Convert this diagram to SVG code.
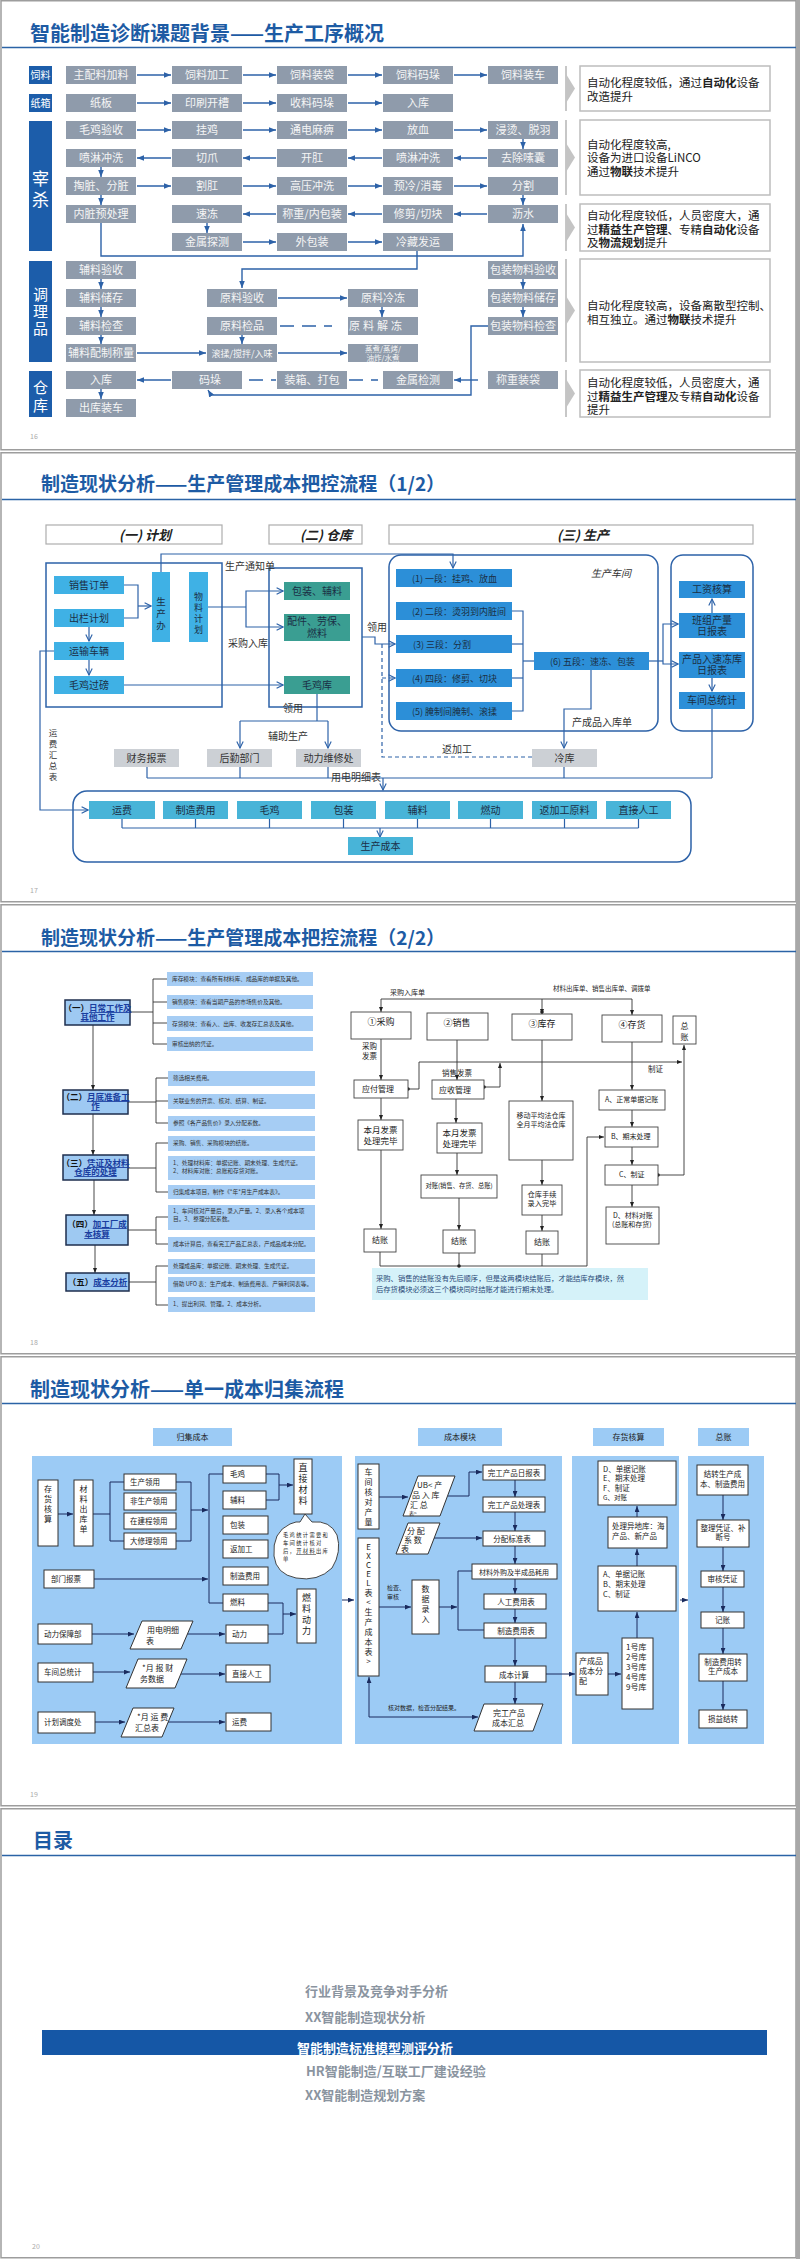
<svg xmlns="http://www.w3.org/2000/svg" width="800" height="2259" viewBox="0 0 800 2259">
<style>
text{font-family:"Noto Sans CJK SC","Liberation Sans",sans-serif}
.frame{fill:#fff;stroke:#9d9d9d;stroke-width:1.5}
.ttl{font-size:20px;font-weight:700;fill:#1d5ba4}
.ttl2{font-size:19px;font-weight:700;fill:#1d5ba4}
.rule{stroke:#2b63a6;stroke-width:1.6}
.pg{font-size:7px;fill:#aaa}
.cat{fill:#1c5daa}
.catt{fill:#fff;text-anchor:middle}
.gb{fill:#8f9bab}
.gt{font-size:11px;fill:#f5f5f5;text-anchor:middle}
.c1{stroke:#2d62a8;stroke-width:1.4;fill:none}
.ca1{stroke:#2d62a8;stroke-width:1.4;fill:none;marker-end:url(#a1)}
.dash1{stroke:#2d62a8;stroke-width:1.6;fill:none;stroke-dasharray:14 8}
.sep{stroke:#b5b5b5;stroke-width:1.5}
.chev{fill:#c4c4c4}
.nb{fill:#fff;stroke:#bdbdbd;stroke-width:1.5}
.nt{font-size:11.5px;fill:#222}
.b{font-weight:700}
.hdr{fill:#fff;stroke:#adadad;stroke-width:1.2}
.hdrt{font-size:13px;font-weight:700;font-style:italic;fill:#222;text-anchor:middle}
.ob{fill:none;stroke:#2d62a8;stroke-width:1.5}
.cy{fill:#3fb1e5}
.tl{fill:#3a9e92}
.st{fill:#2c8fd8}
.ci{fill:#48b4d8}
.gy{fill:#ccd0d5}
.bt{font-size:10px;fill:#1b2f45;text-anchor:middle}
.st9{font-size:9px;fill:#1b2f45}
.lb{font-size:10px;fill:#333}
.c2{stroke:#2d62a8;stroke-width:1.2;fill:none}
.ca2{stroke:#2d62a8;stroke-width:1.2;fill:none;marker-end:url(#a2)}
.d2{stroke:#2d62a8;stroke-width:1.2;fill:none;stroke-dasharray:4 3}
.da2{stroke:#2d62a8;stroke-width:1.2;fill:none;stroke-dasharray:4 3;marker-end:url(#a2)}
.lbx{fill:#9ec9f2;stroke:#1e2e4e;stroke-width:1.5}
.lbt{font-size:8.5px;font-weight:700;fill:#1a3ea0;text-anchor:middle}
.ib{fill:#a6cdf4}
.it{font-size:5.7px;fill:#333}
.k{stroke:#333;stroke-width:0.9;fill:none}
.ka{stroke:#333;stroke-width:0.9;fill:none;marker-end:url(#a3)}
.wb{fill:#fff;stroke:#444;stroke-width:0.9}
.wt{font-size:8px;fill:#222}
.pnl{fill:#9ccbf5}
.wb4{fill:#fff;stroke:#333;stroke-width:1}
.t4{font-size:7.5px;fill:#222}
.t4c{font-size:7.5px;fill:#222;text-anchor:middle}
.n4{stroke:#1a2b5e;stroke-width:1;fill:none}
.na4{stroke:#1a2b5e;stroke-width:1;fill:none;marker-end:url(#a4)}
.toc{font-size:13px;font-weight:700;fill:#8a949f}
.tocw{font-size:13px;font-weight:700;fill:#ffffff}
</style>
<defs>
<marker id="a1" viewBox="0 0 10 8" refX="10" refY="4" markerWidth="7" markerHeight="5.6" markerUnits="userSpaceOnUse" orient="auto"><path d="M0,0 L10,4 L0,8 z" fill="#2d62a8"/></marker>
<marker id="a2" viewBox="0 0 10 10" refX="9" refY="5" markerWidth="8" markerHeight="8" markerUnits="userSpaceOnUse" orient="auto"><path d="M1,1 L9,5 L1,9" fill="none" stroke="#2d62a8" stroke-width="1.4"/></marker>
<marker id="a3" viewBox="0 0 10 8" refX="10" refY="4" markerWidth="5" markerHeight="4" markerUnits="userSpaceOnUse" orient="auto"><path d="M0,0 L10,4 L0,8 z" fill="#222"/></marker>
<marker id="a4" viewBox="0 0 10 8" refX="10" refY="4" markerWidth="6" markerHeight="5" markerUnits="userSpaceOnUse" orient="auto"><path d="M0,0 L10,4 L0,8 z" fill="#1a2b5e"/></marker>
</defs>

<rect x="0" y="0" width="800" height="2259" fill="#fff"/>
<g id="frames">
<rect class="frame" x="1" y="0.75" width="795" height="449"/>
<rect class="frame" x="1" y="452.75" width="795" height="449"/>
<rect class="frame" x="1" y="904.75" width="795" height="449"/>
<rect class="frame" x="1" y="1356.75" width="795" height="449"/>
<rect class="frame" x="1" y="1808.75" width="795" height="449"/>
<rect x="796" y="0" width="4" height="2259" fill="#a8a8a8"/>
</g>

<!-- ================= SLIDE 1 ================= -->
<g id="s1-header">
<text class="ttl" x="30" y="41">智能制造诊断课题背景——生产工序概况</text>
<line class="rule" x1="2" y1="47.5" x2="796" y2="47.5"/>
<text class="pg" x="30" y="439">16</text>
</g>
<g id="s1-categories">
<g id="s1-cat-siliao"><rect class="cat" x="29" y="66" width="23" height="18"/><text class="catt" x="40.5" y="79" font-size="10">饲料</text></g>
<g id="s1-cat-zhixiang"><rect class="cat" x="29" y="94" width="23" height="18"/><text class="catt" x="40.5" y="107" font-size="10">纸箱</text></g>
<g id="s1-cat-zaisha"><rect class="cat" x="29" y="121" width="23" height="130"/><text class="catt" font-size="17"><tspan x="40.5" y="185">宰</tspan><tspan x="40.5" y="206">杀</tspan></text></g>
<g id="s1-cat-tiaolipin"><rect class="cat" x="29" y="261" width="23" height="101"/><text class="catt" font-size="15"><tspan x="40.5" y="300">调</tspan><tspan x="40.5" y="317">理</tspan><tspan x="40.5" y="334">品</tspan></text></g>
<g id="s1-cat-cangku"><rect class="cat" x="29" y="371" width="23" height="46"/><text class="catt" font-size="15"><tspan x="40.5" y="393">仓</tspan><tspan x="40.5" y="411">库</tspan></text></g>
</g>

<g id="s1-connectors">
<line class="ca1" x1="137" y1="75" x2="171" y2="75"/><line class="ca1" x1="243" y1="75" x2="276" y2="75"/><line class="ca1" x1="348" y1="75" x2="382" y2="75"/><line class="ca1" x1="454" y1="75" x2="487" y2="75"/>
<line class="ca1" x1="137" y1="103" x2="171" y2="103"/><line class="ca1" x1="243" y1="103" x2="276" y2="103"/><line class="ca1" x1="348" y1="103" x2="382" y2="103"/>
<line class="ca1" x1="137" y1="130" x2="171" y2="130"/><line class="ca1" x1="243" y1="130" x2="276" y2="130"/><line class="ca1" x1="348" y1="130" x2="382" y2="130"/><line class="ca1" x1="454" y1="130" x2="487" y2="130"/>
<line class="ca1" x1="487" y1="158" x2="454" y2="158"/><line class="ca1" x1="382" y1="158" x2="348" y2="158"/><line class="ca1" x1="276" y1="158" x2="243" y2="158"/><line class="ca1" x1="171" y1="158" x2="137" y2="158"/>
<line class="ca1" x1="137" y1="186" x2="171" y2="186"/><line class="ca1" x1="243" y1="186" x2="276" y2="186"/><line class="ca1" x1="348" y1="186" x2="382" y2="186"/><line class="ca1" x1="454" y1="186" x2="487" y2="186"/>
<line class="ca1" x1="487" y1="214" x2="454" y2="214"/><line class="ca1" x1="382" y1="214" x2="348" y2="214"/><line class="ca1" x1="276" y1="214" x2="243" y2="214"/>
<line class="ca1" x1="243" y1="242" x2="276" y2="242"/><line class="ca1" x1="348" y1="242" x2="382" y2="242"/>
<line class="ca1" x1="523" y1="139" x2="523" y2="149"/>
<line class="ca1" x1="101" y1="167" x2="101" y2="177"/>
<line class="ca1" x1="523" y1="195" x2="523" y2="205"/>
<line class="ca1" x1="101" y1="195" x2="101" y2="205"/>
<line class="ca1" x1="207" y1="223" x2="207" y2="233"/>
<polyline class="ca1" points="101,223 101,256 523,256 523,224"/>
<polyline class="ca1" points="417,251 417,269 242,269 242,288"/>
<line class="ca1" x1="101" y1="278" x2="101" y2="289"/><line class="ca1" x1="101" y1="306" x2="101" y2="317"/><line class="ca1" x1="101" y1="334" x2="101" y2="344"/>
<line class="ca1" x1="523" y1="278" x2="523" y2="289"/><line class="ca1" x1="523" y1="306" x2="523" y2="317"/>
<line class="ca1" x1="382" y1="306" x2="382" y2="317"/>
<line class="ca1" x1="242" y1="334" x2="242" y2="344"/>
<line class="ca1" x1="278" y1="298" x2="347" y2="298"/>
<line class="dash1" x1="280" y1="326" x2="332" y2="326"/>
<line class="ca1" x1="137" y1="353" x2="206" y2="353"/>
<line class="ca1" x1="278" y1="353" x2="347" y2="353"/>
<line class="ca1" x1="171" y1="380" x2="137" y2="380"/>
<line class="dash1" x1="249" y1="380" x2="276" y2="380"/>
<line class="dash1" x1="349" y1="380" x2="378" y2="380"/>
<line class="ca1" x1="478" y1="380" x2="454" y2="380"/>
<polyline class="ca1" points="488,326 471,326 471,395 211,395 208,390"/>
<line class="ca1" x1="101" y1="389" x2="101" y2="399"/>
</g>

<g id="s1-nodes">
<g id="s1-r1c1"><rect class="gb" x="66" y="66" width="70" height="18"/><text class="gt" x="101" y="79">主配料加料</text></g>
<g id="s1-r1c2"><rect class="gb" x="172" y="66" width="70" height="18"/><text class="gt" x="207" y="79">饲料加工</text></g>
<g id="s1-r1c3"><rect class="gb" x="277" y="66" width="70" height="18"/><text class="gt" x="312" y="79">饲料装袋</text></g>
<g id="s1-r1c4"><rect class="gb" x="383" y="66" width="70" height="18"/><text class="gt" x="418" y="79">饲料码垛</text></g>
<g id="s1-r1c5"><rect class="gb" x="488" y="66" width="70" height="18"/><text class="gt" x="523" y="79">饲料装车</text></g>
<g id="s1-r2c1"><rect class="gb" x="66" y="94" width="70" height="18"/><text class="gt" x="101" y="107">纸板</text></g>
<g id="s1-r2c2"><rect class="gb" x="172" y="94" width="70" height="18"/><text class="gt" x="207" y="107">印刷开槽</text></g>
<g id="s1-r2c3"><rect class="gb" x="277" y="94" width="70" height="18"/><text class="gt" x="312" y="107">收料码垛</text></g>
<g id="s1-r2c4"><rect class="gb" x="383" y="94" width="70" height="18"/><text class="gt" x="418" y="107">入库</text></g>
<g id="s1-r3c1"><rect class="gb" x="66" y="121" width="70" height="18"/><text class="gt" x="101" y="134">毛鸡验收</text></g>
<g id="s1-r3c2"><rect class="gb" x="172" y="121" width="70" height="18"/><text class="gt" x="207" y="134">挂鸡</text></g>
<g id="s1-r3c3"><rect class="gb" x="277" y="121" width="70" height="18"/><text class="gt" x="312" y="134">通电麻痹</text></g>
<g id="s1-r3c4"><rect class="gb" x="383" y="121" width="70" height="18"/><text class="gt" x="418" y="134">放血</text></g>
<g id="s1-r3c5"><rect class="gb" x="488" y="121" width="70" height="18"/><text class="gt" x="523" y="134">浸烫、脱羽</text></g>
<g id="s1-r4c1"><rect class="gb" x="66" y="149" width="70" height="18"/><text class="gt" x="101" y="162">喷淋冲洗</text></g>
<g id="s1-r4c2"><rect class="gb" x="172" y="149" width="70" height="18"/><text class="gt" x="207" y="162">切爪</text></g>
<g id="s1-r4c3"><rect class="gb" x="277" y="149" width="70" height="18"/><text class="gt" x="312" y="162">开肛</text></g>
<g id="s1-r4c4"><rect class="gb" x="383" y="149" width="70" height="18"/><text class="gt" x="418" y="162">喷淋冲洗</text></g>
<g id="s1-r4c5"><rect class="gb" x="488" y="149" width="70" height="18"/><text class="gt" x="523" y="162">去除嗉囊</text></g>
<g id="s1-r5c1"><rect class="gb" x="66" y="177" width="70" height="18"/><text class="gt" x="101" y="190">掏脏、分脏</text></g>
<g id="s1-r5c2"><rect class="gb" x="172" y="177" width="70" height="18"/><text class="gt" x="207" y="190">割肛</text></g>
<g id="s1-r5c3"><rect class="gb" x="277" y="177" width="70" height="18"/><text class="gt" x="312" y="190">高压冲洗</text></g>
<g id="s1-r5c4"><rect class="gb" x="383" y="177" width="70" height="18"/><text class="gt" x="418" y="190">预冷/消毒</text></g>
<g id="s1-r5c5"><rect class="gb" x="488" y="177" width="70" height="18"/><text class="gt" x="523" y="190">分割</text></g>
<g id="s1-r6c1"><rect class="gb" x="66" y="205" width="70" height="18"/><text class="gt" x="101" y="218">内脏预处理</text></g>
<g id="s1-r6c2"><rect class="gb" x="172" y="205" width="70" height="18"/><text class="gt" x="207" y="218">速冻</text></g>
<g id="s1-r6c3"><rect class="gb" x="277" y="205" width="70" height="18"/><text class="gt" x="312" y="218">称重/内包装</text></g>
<g id="s1-r6c4"><rect class="gb" x="383" y="205" width="70" height="18"/><text class="gt" x="418" y="218">修剪/切块</text></g>
<g id="s1-r6c5"><rect class="gb" x="488" y="205" width="70" height="18"/><text class="gt" x="523" y="218">沥水</text></g>
<g id="s1-r7c2"><rect class="gb" x="172" y="233" width="70" height="18"/><text class="gt" x="207" y="246">金属探测</text></g>
<g id="s1-r7c3"><rect class="gb" x="277" y="233" width="70" height="18"/><text class="gt" x="312" y="246">外包装</text></g>
<g id="s1-r7c4"><rect class="gb" x="383" y="233" width="70" height="18"/><text class="gt" x="418" y="246">冷藏发运</text></g>
<g id="s1-r8c1"><rect class="gb" x="66" y="261" width="70" height="18"/><text class="gt" x="101" y="274">辅料验收</text></g>
<g id="s1-r8c5"><rect class="gb" x="488" y="261" width="70" height="18"/><text class="gt" x="523" y="274">包装物料验收</text></g>
<g id="s1-r9c1"><rect class="gb" x="66" y="289" width="70" height="18"/><text class="gt" x="101" y="302">辅料储存</text></g>
<g id="s1-r9m1"><rect class="gb" x="207" y="289" width="70" height="18"/><text class="gt" x="242" y="302">原料验收</text></g>
<g id="s1-r9m2"><rect class="gb" x="348" y="289" width="70" height="18"/><text class="gt" x="383" y="302">原料冷冻</text></g>
<g id="s1-r9c5"><rect class="gb" x="488" y="289" width="70" height="18"/><text class="gt" x="523" y="302">包装物料储存</text></g>
<g id="s1-r10c1"><rect class="gb" x="66" y="317" width="70" height="18"/><text class="gt" x="101" y="330">辅料检查</text></g>
<g id="s1-r10m1"><rect class="gb" x="207" y="317" width="70" height="18"/><text class="gt" x="242" y="330">原料检品</text></g>
<g id="s1-r10m2"><rect class="gb" x="348" y="317" width="70" height="18"/><text class="gt" x="349" y="330" style="text-anchor:start;letter-spacing:3px">原料解冻</text></g>
<g id="s1-r10c5"><rect class="gb" x="488" y="317" width="70" height="18"/><text class="gt" x="523" y="330">包装物料检查</text></g>
<g id="s1-r11c1"><rect class="gb" x="66" y="344" width="70" height="18"/><text class="gt" x="101" y="357">辅料配制称量</text></g>
<g id="s1-r11m1"><rect class="gb" x="207" y="344" width="70" height="18"/><text class="gt" x="242" y="356.5" style="font-size:9px">滚揉/搅拌/入味</text></g>
<g id="s1-r11m2"><rect class="gb" x="348" y="344" width="70" height="18"/><text class="gt" style="font-size:7.5px"><tspan x="383" y="352">蒸煮/蒸烤/</tspan><tspan x="383" y="360.5">油炸/水煮</tspan></text></g>
<g id="s1-r12c1"><rect class="gb" x="66" y="371" width="70" height="18"/><text class="gt" x="101" y="384">入库</text></g>
<g id="s1-r12c2"><rect class="gb" x="172" y="371" width="70" height="18"/><text class="gt" x="210" y="384">码垛</text></g>
<g id="s1-r12c3"><rect class="gb" x="277" y="371" width="70" height="18"/><text class="gt" x="312" y="384">装箱、打包</text></g>
<g id="s1-r12c4"><rect class="gb" x="383" y="371" width="70" height="18"/><text class="gt" x="418" y="384">金属检测</text></g>
<g id="s1-r12c5"><rect class="gb" x="488" y="371" width="70" height="18"/><text class="gt" x="518" y="384">称重装袋</text></g>
<g id="s1-r13c1"><rect class="gb" x="66" y="399" width="70" height="18"/><text class="gt" x="101" y="412">出库装车</text></g>
</g>

<g id="s1-notes">
<g id="s1-sep">
<line class="sep" x1="566" y1="66" x2="566" y2="111"/><polygon class="chev" points="566,74 575,88.5 566,103"/>
<line class="sep" x1="566" y1="120" x2="566" y2="195"/><polygon class="chev" points="566,143 575,157.5 566,172"/>
<line class="sep" x1="566" y1="204" x2="566" y2="251"/><polygon class="chev" points="566,213 575,227.5 566,242"/>
<line class="sep" x1="566" y1="259" x2="566" y2="362"/><polygon class="chev" points="566,296 575,310.5 566,325"/>
<line class="sep" x1="566" y1="370" x2="566" y2="417"/><polygon class="chev" points="566,379 575,393.5 566,408"/>
</g>
<g id="s1-note1"><rect class="nb" x="580" y="66" width="190" height="45"/><text class="nt" x="587" y="87">自动化程度较低，通过<tspan class="b">自动化</tspan>设备</text><text class="nt" x="587" y="101">改造提升</text></g>
<g id="s1-note2"><rect class="nb" x="580" y="120" width="190" height="75"/><text class="nt" x="587" y="149">自动化程度较高,</text><text class="nt" x="587" y="162">设备为进口设备LiNCO</text><text class="nt" x="587" y="176">通过<tspan class="b">物联</tspan>技术提升</text></g>
<g id="s1-note3"><rect class="nb" x="580" y="204" width="190" height="47"/><text class="nt" x="587" y="220">自动化程度较低，人员密度大，通</text><text class="nt" x="587" y="234">过<tspan class="b">精益生产管理</tspan>、专精<tspan class="b">自动化</tspan>设备</text><text class="nt" x="587" y="247">及<tspan class="b">物流规划</tspan>提升</text></g>
<g id="s1-note4"><rect class="nb" x="580" y="259" width="190" height="103"/><text class="nt" x="587" y="310">自动化程度较高，设备离散型控制、</text><text class="nt" x="587" y="324">相互独立。通过<tspan class="b">物联</tspan>技术提升</text></g>
<g id="s1-note5"><rect class="nb" x="580" y="370" width="190" height="47"/><text class="nt" x="587" y="387">自动化程度较低，人员密度大，通</text><text class="nt" x="587" y="401">过<tspan class="b">精益生产管理</tspan>及专精<tspan class="b">自动化</tspan>设备</text><text class="nt" x="587" y="414">提升</text></g>
</g>

<!-- ================= SLIDE 2 ================= -->
<g id="s2-header">
<text class="ttl2" x="41" y="491">制造现状分析——生产管理成本把控流程（1/2）</text>
<line class="rule" x1="2" y1="499.5" x2="796" y2="499.5"/>
<text class="pg" x="30" y="893">17</text>
</g>
<g id="s2-sections">
<g id="s2-sec1"><rect class="hdr" x="46" y="525" width="176" height="19"/><text class="hdrt" x="145" y="540">(一) 计划</text></g>
<g id="s2-sec2"><rect class="hdr" x="269" y="525" width="93" height="19"/><text class="hdrt" x="326" y="540">(二) 仓库</text></g>
<g id="s2-sec3"><rect class="hdr" x="389" y="525" width="364" height="19"/><text class="hdrt" x="583" y="540">(三) 生产</text></g>
</g>
<g id="s2-containers">
<rect class="ob" x="46" y="563" width="176" height="144"/>
<rect class="ob" x="269" y="568" width="93" height="139"/>
<rect class="ob" x="389" y="555" width="269" height="176" rx="12"/>
<rect class="ob" x="671" y="555" width="82" height="176" rx="12"/>
<rect class="ob" x="73" y="791" width="618" height="71" rx="14"/>
</g>
<g id="s2-connectors">
<polyline class="c2" points="124,585 138,585 138,618 124,618"/>
<line class="ca2" x1="138" y1="606" x2="151" y2="606"/>
<line class="ca2" x1="89" y1="627" x2="89" y2="641"/>
<line class="ca2" x1="89" y1="660" x2="89" y2="675"/>
<polyline class="ca2" points="54,651 40,651 40,810 88,810"/>
<polyline class="ca2" points="161,572 161,554 453,554 453,568"/>
<line class="c2" x1="208" y1="607" x2="246" y2="607"/>
<polyline class="ca2" points="246,607 246,591 283,591"/>
<polyline class="ca2" points="246,607 246,627 283,627"/>
<line class="ca2" x1="124" y1="685" x2="283" y2="685"/>
<line class="c2" x1="317" y1="694" x2="317" y2="721"/>
<line class="c2" x1="240" y1="721" x2="328" y2="721"/>
<line class="ca2" x1="240" y1="721" x2="240" y2="748"/>
<line class="ca2" x1="328" y1="721" x2="328" y2="748"/>
<polyline class="ca2" points="362,637 375,637 375,644 395,644"/>
<polyline class="d2" points="382,644 382,757 532,757"/>
<line class="da2" x1="382" y1="678" x2="395" y2="678"/>
<polyline class="c2" points="512,611 523,611 523,711 512,711"/>
<line class="c2" x1="512" y1="644" x2="523" y2="644"/>
<line class="c2" x1="512" y1="678" x2="523" y2="678"/>
<line class="c2" x1="523" y1="661" x2="534" y2="661"/>
<polyline class="ca2" points="591,670 591,709 564,709 564,748"/>
<line class="c2" x1="649" y1="661" x2="663" y2="661"/>
<polyline class="ca2" points="663,661 663,624 678,624"/>
<polyline class="ca2" points="663,661 663,664 678,664"/>
<line class="ca2" x1="712" y1="613" x2="712" y2="599"/>
<line class="ca2" x1="712" y1="678" x2="712" y2="691"/>
<line class="c2" x1="147" y1="767" x2="147" y2="778"/>
<line class="c2" x1="240" y1="767" x2="240" y2="778"/>
<line class="c2" x1="328" y1="767" x2="328" y2="778"/>
<line class="c2" x1="564" y1="767" x2="564" y2="778"/>
<line class="c2" x1="712" y1="709" x2="712" y2="778"/>
<line class="c2" x1="147" y1="778" x2="712" y2="778"/>
<line class="ca2" x1="383" y1="778" x2="383" y2="790"/>
<line class="c2" x1="122" y1="819" x2="122" y2="828"/><line class="c2" x1="195.5" y1="819" x2="195.5" y2="828"/><line class="c2" x1="269.5" y1="819" x2="269.5" y2="828"/><line class="c2" x1="343.5" y1="819" x2="343.5" y2="828"/><line class="c2" x1="417.5" y1="819" x2="417.5" y2="828"/><line class="c2" x1="490.5" y1="819" x2="490.5" y2="828"/><line class="c2" x1="564.5" y1="819" x2="564.5" y2="828"/><line class="c2" x1="638.5" y1="819" x2="638.5" y2="828"/>
<line class="c2" x1="122" y1="828" x2="638.5" y2="828"/>
<line class="ca2" x1="380" y1="828" x2="380" y2="837"/>
</g>
<g id="s2-labels">
<text class="lb" x="225" y="570">生产通知单</text>
<text class="lb" x="228" y="647">采购入库</text>
<text class="lb" x="367" y="631">领用</text>
<text class="lb" x="283" y="712">领用</text>
<text class="lb" x="268" y="740">辅助生产</text>
<text class="lb" x="331" y="781">用电明细表</text>
<text class="lb" x="442" y="753">返加工</text>
<text class="lb" x="572" y="726">产成品入库单</text>
<text class="lb" x="591" y="577" style="font-style:italic">生产车间</text>
<text class="lb" style="font-size:8.5px;text-anchor:middle"><tspan x="53" y="736">运</tspan><tspan x="53" y="747">费</tspan><tspan x="53" y="758">汇</tspan><tspan x="53" y="769">总</tspan><tspan x="53" y="780">表</tspan></text>
</g>
<g id="s2-nodes">
<g id="s2-xiaoshou"><rect class="cy" x="54" y="576" width="70" height="18"/><text class="bt" x="89" y="589">销售订单</text></g>
<g id="s2-chulan"><rect class="cy" x="54" y="609" width="70" height="18"/><text class="bt" x="89" y="622">出栏计划</text></g>
<g id="s2-yunshu"><rect class="cy" x="54" y="642" width="70" height="18"/><text class="bt" x="89" y="655">运输车辆</text></g>
<g id="s2-guobang"><rect class="cy" x="54" y="676" width="70" height="18"/><text class="bt" x="89" y="689">毛鸡过磅</text></g>
<g id="s2-shengchanban"><rect class="cy" x="152" y="572" width="18" height="70"/><text class="bt" style="font-size:9.5px"><tspan x="161" y="605">生</tspan><tspan x="161" y="617">产</tspan><tspan x="161" y="629">办</tspan></text></g>
<g id="s2-wuliao"><rect class="cy" x="189" y="572" width="19" height="70"/><text class="bt" style="font-size:9px"><tspan x="198.5" y="600">物</tspan><tspan x="198.5" y="611">料</tspan><tspan x="198.5" y="622">计</tspan><tspan x="198.5" y="633">划</tspan></text></g>
<g id="s2-baozhuang"><rect class="tl" x="284" y="582" width="66" height="18"/><text class="bt" x="317" y="595">包装、辅料</text></g>
<g id="s2-peijian"><rect class="tl" x="284" y="614" width="66" height="27"/><text class="bt"><tspan x="317" y="625">配件、劳保、</tspan><tspan x="317" y="637">燃料</tspan></text></g>
<g id="s2-maojiku"><rect class="tl" x="284" y="676" width="66" height="18"/><text class="bt" x="317" y="689">毛鸡库</text></g>
<g id="s2-caiwu"><rect class="gy" x="114" y="749" width="65" height="18"/><text class="bt" x="146.5" y="762" style="fill:#333">财务报票</text></g>
<g id="s2-houqin"><rect class="gy" x="207" y="749" width="65" height="18"/><text class="bt" x="239.5" y="762" style="fill:#333">后勤部门</text></g>
<g id="s2-dongli"><rect class="gy" x="296" y="749" width="65" height="18"/><text class="bt" x="328.5" y="762" style="fill:#333">动力维修处</text></g>
<g id="s2-lengku"><rect class="gy" x="532" y="749" width="65" height="18"/><text class="bt" x="564.5" y="762" style="fill:#333">冷库</text></g>
<g id="s2-st1"><rect class="st" x="396" y="569" width="116" height="18"/><text class="st9" x="412" y="581.5">(1) 一段：挂鸡、放血</text></g>
<g id="s2-st2"><rect class="st" x="396" y="602" width="116" height="18"/><text class="st9" x="412" y="614.5">(2) 二段：烫羽到内脏间</text></g>
<g id="s2-st3"><rect class="st" x="396" y="635" width="116" height="18"/><text class="st9" x="413" y="647.5">(3) 三段：分割</text></g>
<g id="s2-st4"><rect class="st" x="396" y="669" width="116" height="18"/><text class="st9" x="412" y="681.5">(4) 四段：修剪、切块</text></g>
<g id="s2-st5"><rect class="st" x="396" y="702" width="116" height="18"/><text class="st9" x="412" y="714.5">(5) 腌制间腌制、滚揉</text></g>
<g id="s2-st6"><rect class="st" x="534" y="652" width="115" height="18"/><text class="st9" x="550" y="664.5">(6) 五段：速冻、包装</text></g>
<g id="s2-gongzi"><rect class="st" x="679" y="581" width="66" height="17"/><text class="bt" x="712" y="593">工资核算</text></g>
<g id="s2-banzu"><rect class="st" x="679" y="613" width="66" height="25"/><text class="bt"><tspan x="712" y="624">班组产量</tspan><tspan x="712" y="635">日报表</tspan></text></g>
<g id="s2-sudong"><rect class="st" x="679" y="652" width="66" height="26"/><text class="bt"><tspan x="712" y="663">产品入速冻库</tspan><tspan x="712" y="674">日报表</tspan></text></g>
<g id="s2-chejian"><rect class="st" x="679" y="692" width="66" height="17"/><text class="bt" x="712" y="704">车间总统计</text></g>
<g id="s2-cost1"><rect class="ci" x="89" y="801" width="66" height="18"/><text class="bt" x="122" y="814">运费</text></g>
<g id="s2-cost2"><rect class="ci" x="163" y="801" width="65" height="18"/><text class="bt" x="195.5" y="814">制造费用</text></g>
<g id="s2-cost3"><rect class="ci" x="237" y="801" width="65" height="18"/><text class="bt" x="269.5" y="814">毛鸡</text></g>
<g id="s2-cost4"><rect class="ci" x="311" y="801" width="65" height="18"/><text class="bt" x="343.5" y="814">包装</text></g>
<g id="s2-cost5"><rect class="ci" x="385" y="801" width="65" height="18"/><text class="bt" x="417.5" y="814">辅料</text></g>
<g id="s2-cost6"><rect class="ci" x="458" y="801" width="65" height="18"/><text class="bt" x="490.5" y="814">燃动</text></g>
<g id="s2-cost7"><rect class="ci" x="532" y="801" width="65" height="18"/><text class="bt" x="564.5" y="814">返加工原料</text></g>
<g id="s2-cost8"><rect class="ci" x="606" y="801" width="65" height="18"/><text class="bt" x="638.5" y="814">直接人工</text></g>
<g id="s2-total"><rect class="ci" x="348" y="837" width="65" height="18"/><text class="bt" x="380.5" y="850">生产成本</text></g>
</g>

<!-- ================= SLIDE 3 ================= -->
<g id="s3-header">
<text class="ttl2" x="41" y="945">制造现状分析——生产管理成本把控流程（2/2）</text>
<line class="rule" x1="2" y1="951.5" x2="796" y2="951.5"/>
<text class="pg" x="30" y="1345">18</text>
</g>
<g id="s3-left-connectors">
<line class="ka" x1="93" y1="1025" x2="93" y2="1090"/>
<line class="ka" x1="93" y1="1114" x2="93" y2="1155"/>
<line class="ka" x1="94" y1="1180" x2="94" y2="1215"/>
<line class="ka" x1="95" y1="1245" x2="95" y2="1273"/>
<line class="k" x1="130" y1="1012" x2="153" y2="1012"/><polyline class="k" points="167,979 153,979 153,1044 167,1044"/><line class="k" x1="153" y1="1002" x2="167" y2="1002"/><line class="k" x1="153" y1="1023" x2="167" y2="1023"/>
<line class="k" x1="128" y1="1102" x2="156" y2="1102"/><polyline class="k" points="168,1078 156,1078 156,1123 168,1123"/><line class="k" x1="156" y1="1101" x2="168" y2="1101"/>
<line class="k" x1="128" y1="1168" x2="156" y2="1168"/><polyline class="k" points="168,1143 156,1143 156,1192 168,1192"/>
<line class="k" x1="128" y1="1230" x2="156" y2="1230"/><polyline class="k" points="168,1217 156,1217 156,1244 168,1244"/>
<line class="k" x1="129" y1="1282" x2="156" y2="1282"/><polyline class="k" points="168,1266 156,1266 156,1305 168,1305"/>
</g>
<g id="s3-left-nodes">
<g id="s3-l1"><rect class="lbx" x="65" y="1000" width="65" height="25"/><text class="lbt"><tspan x="97.5" y="1011"><tspan fill="#111">（一）</tspan><tspan text-decoration="underline">日常工作及</tspan></tspan><tspan x="97.5" y="1020" text-decoration="underline">其他工作</tspan></text></g>
<g id="s3-l2"><rect class="lbx" x="63" y="1090" width="65" height="24"/><text class="lbt"><tspan x="95.5" y="1100"><tspan fill="#111">（二）</tspan><tspan text-decoration="underline">月底准备工</tspan></tspan><tspan x="95.5" y="1109" text-decoration="underline">作</tspan></text></g>
<g id="s3-l3"><rect class="lbx" x="63" y="1155" width="65" height="25"/><text class="lbt"><tspan x="95.5" y="1166"><tspan fill="#111">（三）</tspan><tspan text-decoration="underline">凭证及材料</tspan></tspan><tspan x="95.5" y="1175" text-decoration="underline">仓库的处理</tspan></text></g>
<g id="s3-l4"><rect class="lbx" x="66" y="1215" width="62" height="30"/><text class="lbt"><tspan x="97" y="1227"><tspan fill="#111">（四）</tspan><tspan text-decoration="underline">加工厂成</tspan></tspan><tspan x="97" y="1237" text-decoration="underline">本核算</tspan></text></g>
<g id="s3-l5"><rect class="lbx" x="66" y="1273" width="63" height="18"/><text class="lbt" x="97.5" y="1285"><tspan fill="#111">（五）</tspan><tspan text-decoration="underline">成本分析</tspan></text></g>
</g>
<g id="s3-items">
<g id="s3-i1"><rect class="ib" x="167" y="972" width="146" height="14"/><text class="it" x="172" y="981">库存模块：查看所有材料库、成品库的单据及其他。</text></g>
<g id="s3-i2"><rect class="ib" x="167" y="995" width="146" height="14"/><text class="it" x="172" y="1004">销售模块：查看当期产品的市场售价及其他。</text></g>
<g id="s3-i3"><rect class="ib" x="167" y="1016" width="146" height="15"/><text class="it" x="172" y="1026">存货模块：查看入、出库、收发存汇总表及其他。</text></g>
<g id="s3-i4"><rect class="ib" x="167" y="1037" width="146" height="14"/><text class="it" x="172" y="1046">审核出纳的凭证。</text></g>
<g id="s3-i5"><rect class="ib" x="168" y="1071" width="147" height="15"/><text class="it" x="173" y="1080">筛选相关费用。</text></g>
<g id="s3-i6"><rect class="ib" x="168" y="1094" width="147" height="15"/><text class="it" x="173" y="1103">关联业务的开票、核对、结算、制证。</text></g>
<g id="s3-i7"><rect class="ib" x="168" y="1116" width="147" height="15"/><text class="it" x="173" y="1125">参照《各产品售价》录入分配系数。</text></g>
<g id="s3-i8"><rect class="ib" x="168" y="1136" width="147" height="15"/><text class="it" x="173" y="1145">采购、销售、采购模块的结账。</text></g>
<g id="s3-i9"><rect class="ib" x="168" y="1156" width="147" height="24"/><text class="it"><tspan x="173" y="1165">1、处理材料库：单据记账、期末处理、生成凭证。</tspan><tspan x="173" y="1173">2、材料库对账：总账和存货对账。</tspan></text></g>
<g id="s3-i10"><rect class="ib" x="168" y="1185" width="147" height="14"/><text class="it" x="173" y="1194">归集成本项目，制作《*年*月生产成本表》。</text></g>
<g id="s3-i11"><rect class="ib" x="168" y="1205" width="147" height="25"/><text class="it"><tspan x="173" y="1213">1、车间核对产量后，录入产量。2、录入各个成本项</tspan><tspan x="173" y="1221">目。3、整理分配系数。</tspan></text></g>
<g id="s3-i12"><rect class="ib" x="168" y="1237" width="147" height="15"/><text class="it" x="173" y="1246">成本计算后，查看完工产品汇总表，产成品成本分配。</text></g>
<g id="s3-i13"><rect class="ib" x="168" y="1259" width="147" height="15"/><text class="it" x="173" y="1268">处理成品库：单据记账、期末处理、生成凭证。</text></g>
<g id="s3-i14"><rect class="ib" x="168" y="1277" width="147" height="15"/><text class="it" x="173" y="1286">借助 UFO 表：生产成本、制造费用表、产销利润表等。</text></g>
<g id="s3-i15"><rect class="ib" x="168" y="1297" width="147" height="15"/><text class="it" x="173" y="1306">1、提出利润、管理。2、成本分析。</text></g>
</g>
<g id="s3-flow-connectors">
<line class="k" x1="381" y1="999" x2="632" y2="999"/>
<line class="ka" x1="381" y1="999" x2="381" y2="1012"/>
<line class="ka" x1="542" y1="999" x2="542" y2="1014"/>
<circle cx="542" cy="1012" r="1.8" fill="#222"/>
<line class="ka" x1="632" y1="999" x2="632" y2="1015"/>
<line class="ka" x1="381" y1="1039" x2="381" y2="1080"/>
<line class="ka" x1="381" y1="1098" x2="381" y2="1120"/>
<line class="ka" x1="381" y1="1150" x2="381" y2="1229"/>
<line class="ka" x1="457" y1="1040" x2="457" y2="1080"/>
<line class="ka" x1="456" y1="1099" x2="456" y2="1123"/>
<line class="ka" x1="457" y1="1153" x2="457" y2="1175"/>
<line class="ka" x1="459" y1="1198" x2="459" y2="1230"/>
<line class="ka" x1="542" y1="1040" x2="542" y2="1101"/>
<line class="ka" x1="542" y1="1160" x2="542" y2="1185"/>
<line class="ka" x1="542" y1="1215" x2="542" y2="1231"/>
<line class="ka" x1="632" y1="1042" x2="632" y2="1090"/>
<line class="ka" x1="632" y1="1110" x2="632" y2="1127"/>
<line class="ka" x1="632" y1="1147" x2="632" y2="1165"/>
<line class="ka" x1="632" y1="1185" x2="632" y2="1207"/>
<polyline class="ka" points="408,1089 419,1089 419,1062 682,1062"/>
<circle cx="408" cy="1089" r="1.8" fill="#222"/>
<polyline class="ka" points="484,1087 500,1087 500,1063"/>
<circle cx="484" cy="1087" r="1.8" fill="#222"/>
<polyline class="ka" points="658,1175 684,1175 684,1045"/>
<circle cx="658" cy="1175" r="1.8" fill="#222"/>
<line class="k" x1="380" y1="1252" x2="380" y2="1266"/>
<line class="k" x1="459" y1="1253" x2="459" y2="1266"/>
<line class="k" x1="542" y1="1254" x2="542" y2="1266"/>
<polyline class="ka" points="380,1266 587,1266 587,1137 604,1137"/>
<circle cx="459" cy="1266" r="1.8" fill="#222"/>
</g>
<g id="s3-flow-labels">
<text class="wt" x="390" y="995" style="font-size:7px">采购入库单</text>
<text class="wt" x="553" y="991" style="font-size:6.5px">材料出库单、销售出库单、调拨单</text>
<text class="wt" style="font-size:7.5px"><tspan x="362" y="1049">采购</tspan><tspan x="362" y="1059">发票</tspan></text>
<text class="wt" x="442" y="1076" style="font-size:7.5px">销售发票</text>
<text class="wt" x="648" y="1072" style="font-size:7.5px">制证</text>
</g>
<g id="s3-flow-nodes">
<g id="s3-caigou"><rect class="wb" x="351" y="1012" width="60" height="27"/><text class="wt" x="381" y="1025" style="font-size:9px;text-anchor:middle">①采购</text></g>
<g id="s3-xiaoshou"><rect class="wb" x="427" y="1013" width="61" height="27"/><text class="wt" x="457" y="1026" style="font-size:9px;text-anchor:middle">②销售</text></g>
<g id="s3-kucun"><rect class="wb" x="512" y="1014" width="60" height="26"/><text class="wt" x="542" y="1027" style="font-size:9px;text-anchor:middle">③库存</text></g>
<g id="s3-cunhuo"><rect class="wb" x="602" y="1015" width="60" height="27"/><text class="wt" x="632" y="1028" style="font-size:9px;text-anchor:middle">④存货</text></g>
<g id="s3-zongzhang"><rect class="wb" x="673" y="1016" width="23" height="28"/><text class="wt" style="text-anchor:middle"><tspan x="684.5" y="1029">总</tspan><tspan x="684.5" y="1040">账</tspan></text></g>
<g id="s3-yingfu"><rect class="wb" x="354" y="1080" width="54" height="18"/><text class="wt" x="378" y="1092" style="text-anchor:middle">应付管理</text></g>
<g id="s3-yingshou"><rect class="wb" x="432" y="1080" width="52" height="19"/><text class="wt" x="455" y="1093" style="text-anchor:middle">应收管理</text></g>
<g id="s3-yidong"><rect class="wb" x="509" y="1101" width="64" height="59"/><text class="wt" style="font-size:7px;text-anchor:middle"><tspan x="541" y="1118">移动平均法仓库</tspan><tspan x="541" y="1127">全月平均法仓库</tspan></text></g>
<g id="s3-A"><rect class="wb" x="599" y="1090" width="66" height="20"/><text class="wt" x="605" y="1102" style="font-size:7px">A、正常单据记账</text></g>
<g id="s3-B"><rect class="wb" x="605" y="1127" width="53" height="20"/><text class="wt" x="611" y="1139" style="font-size:7px">B、期末处理</text></g>
<g id="s3-C"><rect class="wb" x="605" y="1165" width="53" height="20"/><text class="wt" x="619" y="1177" style="font-size:7px">C、制证</text></g>
<g id="s3-D"><rect class="wb" x="606" y="1207" width="53" height="37"/><text class="wt" style="font-size:7px"><tspan x="613" y="1218">D、材料对账</tspan><tspan x="612" y="1227">(总账和存货)</tspan></text></g>
<g id="s3-benyue1"><rect class="wb" x="358" y="1120" width="45" height="30"/><text class="wt" style="font-size:8.5px;text-anchor:middle"><tspan x="380.5" y="1133">本月发票</tspan><tspan x="380.5" y="1144">处理完毕</tspan></text></g>
<g id="s3-benyue2"><rect class="wb" x="437" y="1123" width="45" height="30"/><text class="wt" style="font-size:8.5px;text-anchor:middle"><tspan x="459.5" y="1136">本月发票</tspan><tspan x="459.5" y="1147">处理完毕</tspan></text></g>
<g id="s3-duizhang"><rect class="wb" x="421" y="1175" width="76" height="23"/><text class="wt" x="459" y="1188" style="font-size:6.3px;text-anchor:middle">对账(销售、存货、总账)</text></g>
<g id="s3-cangku"><rect class="wb" x="522" y="1185" width="40" height="30"/><text class="wt" style="font-size:7.2px;text-anchor:middle"><tspan x="542" y="1197">仓库手续</tspan><tspan x="542" y="1206">录入完毕</tspan></text></g>
<g id="s3-jz1"><rect class="wb" x="364" y="1229" width="32" height="23"/><text class="wt" x="380" y="1243" style="text-anchor:middle">结账</text></g>
<g id="s3-jz2"><rect class="wb" x="443" y="1230" width="32" height="23"/><text class="wt" x="459" y="1244" style="text-anchor:middle">结账</text></g>
<g id="s3-jz3"><rect class="wb" x="526" y="1231" width="32" height="23"/><text class="wt" x="542" y="1245" style="text-anchor:middle">结账</text></g>
<g id="s3-note"><rect x="372" y="1268" width="276" height="32" fill="#d5f2f9"/><text font-size="7.3" fill="#2a4a78"><tspan x="376" y="1281">采购、销售的结账没有先后顺序，但是这两模块结账后，才能结库存模块，然</tspan><tspan x="376" y="1292">后存货模块必须这三个模块同时结账才能进行期末处理。</tspan></text></g>
</g>

<!-- ================= SLIDE 4 ================= -->
<g id="s4-header">
<text class="ttl" x="30" y="1397">制造现状分析——单一成本归集流程</text>
<line class="rule" x1="2" y1="1403.5" x2="796" y2="1403.5"/>
<text class="pg" x="30" y="1797">19</text>
</g>
<g id="s4-panels">
<g id="s4-h1"><rect class="pnl" x="153" y="1428" width="79" height="18"/><text class="t4c" x="192.5" y="1440" style="font-size:8px">归集成本</text></g>
<g id="s4-h2"><rect class="pnl" x="418" y="1428" width="84" height="18"/><text class="t4c" x="460" y="1440" style="font-size:8px">成本模块</text></g>
<g id="s4-h3"><rect class="pnl" x="593" y="1428" width="71" height="18"/><text class="t4c" x="628.5" y="1440" style="font-size:8px">存货核算</text></g>
<g id="s4-h4"><rect class="pnl" x="698" y="1428" width="51" height="18"/><text class="t4c" x="723.5" y="1440" style="font-size:8px">总账</text></g>
<rect class="pnl" x="32" y="1456" width="310" height="288"/>
<rect class="pnl" x="355" y="1456" width="207" height="288"/>
<rect class="pnl" x="572" y="1456" width="107" height="288"/>
<rect class="pnl" x="688" y="1456" width="76" height="288"/>
</g>
<g id="s4-connectors">
<line class="na4" x1="58" y1="1514" x2="73" y2="1514"/>
<line class="n4" x1="93" y1="1514" x2="110" y2="1514"/>
<polyline class="n4" points="124,1482 110,1482 110,1541 124,1541"/>
<polyline class="n4" points="176,1482 191,1482 191,1541 176,1541"/>
<line class="na4" x1="191" y1="1510" x2="208" y2="1510"/>
<polyline class="n4" points="223,1474 209,1474 209,1603 223,1603"/>
<line class="na4" x1="94" y1="1579" x2="208" y2="1579"/>
<polyline class="n4" points="266,1474 279,1474 279,1500 266,1500"/>
<line class="na4" x1="279" y1="1485" x2="293" y2="1485"/>
<polyline class="n4" points="268,1603 283,1603 283,1634 268,1634"/>
<line class="na4" x1="283" y1="1614" x2="296" y2="1614"/>
<line class="na4" x1="92" y1="1634" x2="134" y2="1634"/>
<line class="na4" x1="187" y1="1634" x2="225" y2="1634"/>
<line class="na4" x1="93" y1="1672" x2="130" y2="1672"/>
<line class="na4" x1="181" y1="1674" x2="225" y2="1674"/>
<line class="na4" x1="95" y1="1722" x2="125" y2="1722"/>
<line class="na4" x1="168" y1="1722" x2="225" y2="1722"/>
<line class="na4" x1="342" y1="1600" x2="354" y2="1600"/>
<line class="na4" x1="379" y1="1497" x2="408" y2="1497"/>
<polyline class="na4" points="448,1496 469,1496 469,1472 482,1472"/>
<line class="na4" x1="434" y1="1538" x2="482" y2="1538"/>
<line class="na4" x1="515" y1="1480" x2="515" y2="1497"/>
<line class="na4" x1="515" y1="1512" x2="515" y2="1531"/>
<line class="na4" x1="515" y1="1546" x2="515" y2="1564"/>
<line class="na4" x1="515" y1="1579" x2="515" y2="1594"/>
<line class="na4" x1="515" y1="1609" x2="515" y2="1623"/>
<line class="na4" x1="515" y1="1638" x2="515" y2="1666"/>
<line class="na4" x1="515" y1="1682" x2="515" y2="1704"/>
<line class="na4" x1="379" y1="1607" x2="411" y2="1607"/>
<line class="na4" x1="439" y1="1607" x2="457" y2="1607"/>
<polyline class="n4" points="472,1571 458,1571 458,1630 484,1630"/>
<line class="na4" x1="546" y1="1674" x2="575" y2="1674"/>
<line class="na4" x1="369" y1="1717" x2="369" y2="1677"/>
<line class="na4" x1="369" y1="1717" x2="478" y2="1717"/>
<line class="na4" x1="608" y1="1674" x2="621" y2="1674"/>
<line class="na4" x1="637" y1="1638" x2="637" y2="1612"/>
<line class="na4" x1="637" y1="1566" x2="637" y2="1549"/>
<line class="na4" x1="637" y1="1517" x2="637" y2="1506"/>
<line class="na4" x1="680" y1="1600" x2="688" y2="1600"/>
<line class="na4" x1="723" y1="1495" x2="723" y2="1520"/>
<line class="na4" x1="723" y1="1547" x2="723" y2="1571"/>
<line class="na4" x1="723" y1="1587" x2="723" y2="1612"/>
<line class="na4" x1="723" y1="1628" x2="723" y2="1654"/>
<line class="na4" x1="723" y1="1681" x2="723" y2="1710"/>
</g>
<g id="s4-nodes">
<g id="s4-cunhuo"><rect class="wb4" x="38" y="1480" width="20" height="66"/><text class="t4c" style="font-size:8px"><tspan x="48" y="1492">存</tspan><tspan x="48" y="1502">货</tspan><tspan x="48" y="1512">核</tspan><tspan x="48" y="1522">算</tspan></text></g>
<g id="s4-cailiao"><rect class="wb4" x="74" y="1480" width="19" height="66"/><text class="t4c" style="font-size:8px"><tspan x="83.5" y="1492">材</tspan><tspan x="83.5" y="1502">料</tspan><tspan x="83.5" y="1512">出</tspan><tspan x="83.5" y="1522">库</tspan><tspan x="83.5" y="1532">单</tspan></text></g>
<g id="s4-lingyong1"><rect class="wb4" x="124" y="1474" width="52" height="16"/><text class="t4" x="130" y="1485">生产领用</text></g>
<g id="s4-lingyong2"><rect class="wb4" x="124" y="1493" width="52" height="17"/><text class="t4" x="130" y="1504">非生产领用</text></g>
<g id="s4-lingyong3"><rect class="wb4" x="124" y="1513" width="52" height="16"/><text class="t4" x="130" y="1524">在建程领用</text></g>
<g id="s4-lingyong4"><rect class="wb4" x="124" y="1533" width="52" height="16"/><text class="t4" x="130" y="1544">大修理领用</text></g>
<g id="s4-maoji"><rect class="wb4" x="223" y="1466" width="43" height="17"/><text class="t4" x="230" y="1477">毛鸡</text></g>
<g id="s4-fuliao"><rect class="wb4" x="223" y="1491" width="43" height="18"/><text class="t4" x="230" y="1503">辅料</text></g>
<g id="s4-baozhuang"><rect class="wb4" x="223" y="1516" width="45" height="18"/><text class="t4" x="230" y="1528">包装</text></g>
<g id="s4-fanjiagong"><rect class="wb4" x="223" y="1540" width="45" height="18"/><text class="t4" x="230" y="1552">返加工</text></g>
<g id="s4-zhizao"><rect class="wb4" x="223" y="1567" width="45" height="18"/><text class="t4" x="230" y="1579">制造费用</text></g>
<g id="s4-ranliao"><rect class="wb4" x="223" y="1594" width="45" height="17"/><text class="t4" x="230" y="1605">燃料</text></g>
<g id="s4-zhijiecailiao"><rect class="wb4" x="294" y="1459" width="18" height="55"/><text class="t4c" style="font-size:9px"><tspan x="303" y="1471">直</tspan><tspan x="303" y="1482">接</tspan><tspan x="303" y="1493">材</tspan><tspan x="303" y="1504">料</tspan></text></g>
<g id="s4-bubble"><path d="M290,1524 Q297,1521 300,1522 L305,1514 L312,1522 Q330,1520 337,1535 Q342,1552 332,1568 Q318,1582 296,1578 Q276,1574 274,1556 Q272,1532 290,1524 Z" fill="#fff" stroke="#333" stroke-width="0.9"/><text font-size="5.3" fill="#222" letter-spacing="1.3"><tspan x="283" y="1537">毛鸡统计需要和</tspan><tspan x="283" y="1545">车间统计核对</tspan><tspan x="283" y="1553">后，<tspan text-decoration="underline">开材料</tspan>出库</tspan><tspan x="283" y="1561">单</tspan></text></g>
<g id="s4-bumen"><rect class="wb4" x="44" y="1570" width="50" height="18"/><text class="t4" x="51" y="1582">部门报票</text></g>
<g id="s4-randong"><rect class="wb4" x="297" y="1589" width="19" height="54"/><text class="t4c" style="font-size:9px"><tspan x="306.5" y="1601">燃</tspan><tspan x="306.5" y="1612">料</tspan><tspan x="306.5" y="1623">动</tspan><tspan x="306.5" y="1634">力</tspan></text></g>
<g id="s4-donglibz"><rect class="wb4" x="38" y="1624" width="54" height="20"/><text class="t4" x="44" y="1637">动力保障部</text></g>
<g id="s4-yongdian"><polygon class="wb4" points="142,1621 193,1621 181,1649 130,1649"/><text class="t4" style="font-size:8px"><tspan x="147" y="1633">用电明细</tspan><tspan x="146" y="1644">表</tspan></text></g>
<g id="s4-dongli"><rect class="wb4" x="226" y="1625" width="42" height="18"/><text class="t4" x="232" y="1637">动力</text></g>
<g id="s4-chejian"><rect class="wb4" x="38" y="1663" width="55" height="19"/><text class="t4" x="44" y="1675">车间总统计</text></g>
<g id="s4-yuebao"><polygon class="wb4" points="138,1659 187,1659 175,1688 126,1688"/><text class="t4" style="font-size:8px"><tspan x="142" y="1671">*月 报 财</tspan><tspan x="140" y="1682">务数据</tspan></text></g>
<g id="s4-zhijierengong"><rect class="wb4" x="226" y="1665" width="44" height="17"/><text class="t4" x="232" y="1677">直接人工</text></g>
<g id="s4-jihua"><rect class="wb4" x="38" y="1712" width="57" height="21"/><text class="t4" x="44" y="1725">计划调度处</text></g>
<g id="s4-yunfeihz"><polygon class="wb4" points="133,1708 174,1708 162,1737 121,1737"/><text class="t4" style="font-size:8px"><tspan x="137" y="1720">*月 运 费</tspan><tspan x="135" y="1731">汇总表</tspan></text></g>
<g id="s4-yunfei"><rect class="wb4" x="226" y="1713" width="45" height="18"/><text class="t4" x="232" y="1725">运费</text></g>
<g id="s4-hedui"><rect class="wb4" x="358" y="1464" width="21" height="65"/><text class="t4c" style="font-size:8px"><tspan x="368.5" y="1475">车</tspan><tspan x="368.5" y="1485">间</tspan><tspan x="368.5" y="1495">核</tspan><tspan x="368.5" y="1505">对</tspan><tspan x="368.5" y="1515">产</tspan><tspan x="368.5" y="1525">量</tspan></text></g>
<g id="s4-excel"><rect class="wb4" x="358" y="1538" width="21" height="138"/><text class="t4c" style="font-size:8px"><tspan x="368.5" y="1550">E</tspan><tspan x="368.5" y="1559">X</tspan><tspan x="368.5" y="1568">C</tspan><tspan x="368.5" y="1577">E</tspan><tspan x="368.5" y="1586">L</tspan><tspan x="368.5" y="1596">表</tspan><tspan x="368.5" y="1605">&lt;</tspan><tspan x="368.5" y="1615">生</tspan><tspan x="368.5" y="1625">产</tspan><tspan x="368.5" y="1635">成</tspan><tspan x="368.5" y="1645">本</tspan><tspan x="368.5" y="1655">表</tspan><tspan x="368.5" y="1664">&gt;</tspan></text></g>
<g id="s4-ub"><polygon class="wb4" points="418,1476 455,1476 440,1516 403,1516"/><text class="t4" style="font-size:8px"><tspan x="417" y="1488">UB&lt; 产</tspan><tspan x="412" y="1498">品 入 库</tspan><tspan x="410" y="1508">汇  总</tspan><tspan x="409" y="1515" font-size="5">表&gt;</tspan></text></g>
<g id="s4-fenpeixishu"><polygon class="wb4" points="408,1523 440,1523 428,1554 396,1554"/><text class="t4" style="font-size:8px"><tspan x="407" y="1534">分 配</tspan><tspan x="404" y="1543">系 数</tspan><tspan x="401" y="1552">表</tspan></text></g>
<g id="s4-rib"><rect class="wb4" x="483" y="1465" width="62" height="15"/><text class="t4c" x="514" y="1476">完工产品日报表</text></g>
<g id="s4-chuli"><rect class="wb4" x="483" y="1497" width="62" height="15"/><text class="t4c" x="514" y="1508">完工产品处理表</text></g>
<g id="s4-biaozhun"><rect class="wb4" x="483" y="1531" width="62" height="15"/><text class="t4c" x="512" y="1542">分配标准表</text></g>
<g id="s4-waigou"><rect class="wb4" x="472" y="1564" width="85" height="15"/><text class="t4c" x="514" y="1575" style="font-size:7px">材料外购及半成品耗用</text></g>
<g id="s4-rengong"><rect class="wb4" x="484" y="1594" width="62" height="15"/><text class="t4c" x="516" y="1605">人工费用表</text></g>
<g id="s4-zhizaofy"><rect class="wb4" x="484" y="1623" width="62" height="15"/><text class="t4c" x="516" y="1634">制造费用表</text></g>
<g id="s4-chengben"><rect class="wb4" x="485" y="1666" width="61" height="16"/><text class="t4c" x="514" y="1678">成本计算</text></g>
<g id="s4-huizong"><polygon class="wb4" points="484,1704 543,1704 533,1731 474,1731"/><text class="t4c" style="font-size:8px"><tspan x="509" y="1716">完工产品</tspan><tspan x="508" y="1726">成本汇总</tspan></text></g>
<g id="s4-luru"><rect class="wb4" x="412" y="1580" width="27" height="54"/><text class="t4c" style="font-size:8px"><tspan x="425.5" y="1592">数</tspan><tspan x="425.5" y="1602">据</tspan><tspan x="425.5" y="1612">录</tspan><tspan x="425.5" y="1622">入</tspan></text></g>
<text class="t4" style="font-size:6px"><tspan x="387" y="1590">检查、</tspan><tspan x="387" y="1599">审核</tspan></text>
<text class="t4" x="388" y="1710" style="font-size:6px">核对数据，检查分配结果。</text>
<g id="s4-DEFG"><rect class="wb4" x="598" y="1461" width="78" height="44"/><text class="t4"><tspan x="603" y="1472">D、单据记账</tspan><tspan x="603" y="1481">E、期末处理</tspan><tspan x="603" y="1491">F、制证</tspan><tspan x="603" y="1500" font-size="6.5">G、对账</tspan></text></g>
<g id="s4-yidi"><rect class="wb4" x="608" y="1517" width="59" height="31"/><text class="t4"><tspan x="612" y="1529">处理异地库：海</tspan><tspan x="612" y="1539">产品、新产品</tspan></text></g>
<g id="s4-ABC"><rect class="wb4" x="598" y="1566" width="78" height="45"/><text class="t4"><tspan x="603" y="1577">A、单据记账</tspan><tspan x="603" y="1587">B、期末处理</tspan><tspan x="603" y="1597">C、制证</tspan></text></g>
<g id="s4-chanchengpin"><rect class="wb4" x="576" y="1653" width="32" height="42"/><text class="t4" style="font-size:8px"><tspan x="579" y="1664">产成品</tspan><tspan x="579" y="1674">成本分</tspan><tspan x="579" y="1684">配</tspan></text></g>
<g id="s4-kuhao"><rect class="wb4" x="622" y="1638" width="31" height="71"/><text class="t4" style="font-size:8px"><tspan x="626" y="1650">1号库</tspan><tspan x="626" y="1660">2号库</tspan><tspan x="626" y="1670">3号库</tspan><tspan x="626" y="1680">4号库</tspan><tspan x="626" y="1690">9号库</tspan></text></g>
<g id="s4-jiezhuan"><rect class="wb4" x="697" y="1465" width="51" height="30"/><text class="t4c"><tspan x="722.5" y="1477">结转生产成</tspan><tspan x="722.5" y="1487">本、制造费用</tspan></text></g>
<g id="s4-zhengli"><rect class="wb4" x="697" y="1520" width="52" height="27"/><text class="t4c"><tspan x="723" y="1531">整理凭证、补</tspan><tspan x="723" y="1540">断号</tspan></text></g>
<g id="s4-shenhe"><rect class="wb4" x="701" y="1571" width="43" height="16"/><text class="t4c" x="722.5" y="1582">审核凭证</text></g>
<g id="s4-jizhang"><rect class="wb4" x="701" y="1612" width="43" height="16"/><text class="t4c" x="722.5" y="1623">记账</text></g>
<g id="s4-zhuanzhi"><rect class="wb4" x="699" y="1654" width="48" height="27"/><text class="t4c"><tspan x="723" y="1665">制造费用转</tspan><tspan x="723" y="1674">生产成本</tspan></text></g>
<g id="s4-sunyi"><rect class="wb4" x="699" y="1710" width="48" height="18"/><text class="t4c" x="723" y="1722">损益结转</text></g>
</g>

<!-- ================= SLIDE 5 ================= -->
<g id="s5">
<text class="ttl" x="33" y="1848">目录</text>
<line class="rule" x1="2" y1="1855.5" x2="796" y2="1855.5"/>
<text class="toc" x="305" y="1996">行业背景及竞争对手分析</text>
<text class="toc" x="305" y="2022">XX智能制造现状分析</text>
<rect x="42" y="2030" width="725" height="25" fill="#1557a6"/>
<text class="tocw" x="297" y="2053">智能制造标准模型测评分析</text>
<text class="toc" x="306" y="2076">HR智能制造/互联工厂建设经验</text>
<text class="toc" x="305" y="2100">XX智能制造规划方案</text>
<text class="pg" x="32" y="2249">20</text>
</g>
</svg>
